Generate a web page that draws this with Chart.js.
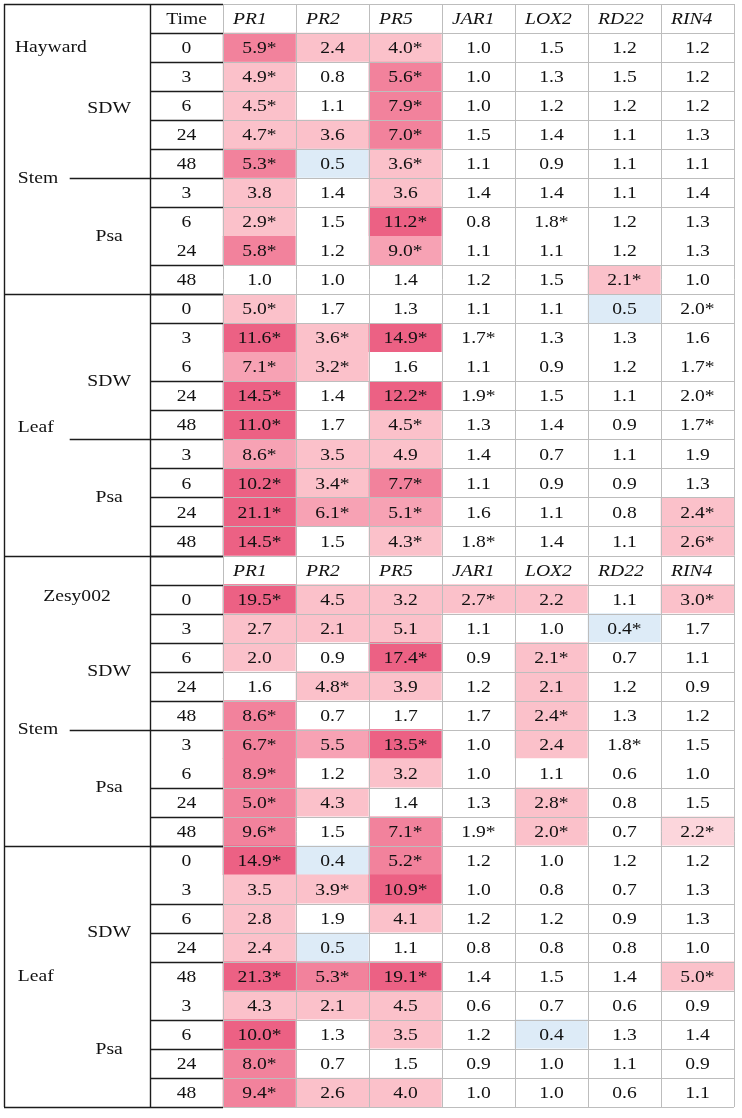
<!DOCTYPE html>
<html>
<head>
<meta charset="utf-8">
<script src="https://cdn.jsdelivr.net/npm/chart.js@4.4.0/dist/chart.umd.min.js"></script>
<style>
html, body { margin: 0; padding: 0; background: #fff; }
#wrap { width: 742px; height: 1118px; position: relative; }
</style>
</head>
<body>
<div id="wrap"><canvas id="heatTable"></canvas></div>
<script>
const genes = ["PR1", "PR2", "PR5", "JAR1", "LOX2", "RD22", "RIN4"];
const times = ["0", "3", "6", "24", "48", "3", "6", "24", "48"];

// fold change values, * = significant
const haywardStem = [
    ["5.9*", "2.4", "4.0*", "1.0", "1.5", "1.2", "1.2"],
    ["4.9*", "0.8", "5.6*", "1.0", "1.3", "1.5", "1.2"],
    ["4.5*", "1.1", "7.9*", "1.0", "1.2", "1.2", "1.2"],
    ["4.7*", "3.6", "7.0*", "1.5", "1.4", "1.1", "1.3"],
    ["5.3*", "0.5", "3.6*", "1.1", "0.9", "1.1", "1.1"],
    ["3.8", "1.4", "3.6", "1.4", "1.4", "1.1", "1.4"],
    ["2.9*", "1.5", "11.2*", "0.8", "1.8*", "1.2", "1.3"],
    ["5.8*", "1.2", "9.0*", "1.1", "1.1", "1.2", "1.3"],
    ["1.0", "1.0", "1.4", "1.2", "1.5", "2.1*", "1.0"],
];
const haywardLeaf = [
    ["5.0*", "1.7", "1.3", "1.1", "1.1", "0.5", "2.0*"],
    ["11.6*", "3.6*", "14.9*", "1.7*", "1.3", "1.3", "1.6"],
    ["7.1*", "3.2*", "1.6", "1.1", "0.9", "1.2", "1.7*"],
    ["14.5*", "1.4", "12.2*", "1.9*", "1.5", "1.1", "2.0*"],
    ["11.0*", "1.7", "4.5*", "1.3", "1.4", "0.9", "1.7*"],
    ["8.6*", "3.5", "4.9", "1.4", "0.7", "1.1", "1.9"],
    ["10.2*", "3.4*", "7.7*", "1.1", "0.9", "0.9", "1.3"],
    ["21.1*", "6.1*", "5.1*", "1.6", "1.1", "0.8", "2.4*"],
    ["14.5*", "1.5", "4.3*", "1.8*", "1.4", "1.1", "2.6*"],
];
const zesyStem = [
    ["19.5*", "4.5", "3.2", "2.7*", "2.2", "1.1", "3.0*"],
    ["2.7", "2.1", "5.1", "1.1", "1.0", "0.4*", "1.7"],
    ["2.0", "0.9", "17.4*", "0.9", "2.1*", "0.7", "1.1"],
    ["1.6", "4.8*", "3.9", "1.2", "2.1", "1.2", "0.9"],
    ["8.6*", "0.7", "1.7", "1.7", "2.4*", "1.3", "1.2"],
    ["6.7*", "5.5", "13.5*", "1.0", "2.4", "1.8*", "1.5"],
    ["8.9*", "1.2", "3.2", "1.0", "1.1", "0.6", "1.0"],
    ["5.0*", "4.3", "1.4", "1.3", "2.8*", "0.8", "1.5"],
    ["9.6*", "1.5", "7.1*", "1.9*", "2.0*", "0.7", "2.2*"],
];
const zesyLeaf = [
    ["14.9*", "0.4", "5.2*", "1.2", "1.0", "1.2", "1.2"],
    ["3.5", "3.9*", "10.9*", "1.0", "0.8", "0.7", "1.3"],
    ["2.8", "1.9", "4.1", "1.2", "1.2", "0.9", "1.3"],
    ["2.4", "0.5", "1.1", "0.8", "0.8", "0.8", "1.0"],
    ["21.3*", "5.3*", "19.1*", "1.4", "1.5", "1.4", "5.0*"],
    ["4.3", "2.1", "4.5", "0.6", "0.7", "0.6", "0.9"],
    ["10.0*", "1.3", "3.5", "1.2", "0.4", "1.3", "1.4"],
    ["8.0*", "0.7", "1.5", "0.9", "1.0", "1.1", "0.9"],
    ["9.4*", "2.6", "4.0", "1.0", "1.0", "0.6", "1.1"],
];

// shading class: 0 none, -1 down (blue), 1..5 up (pink, light to dark)
const haywardStemShade = [
    [4, 2, 2, 0, 0, 0, 0],
    [2, 0, 4, 0, 0, 0, 0],
    [2, 0, 4, 0, 0, 0, 0],
    [2, 2, 4, 0, 0, 0, 0],
    [4, -1, 2, 0, 0, 0, 0],
    [2, 0, 2, 0, 0, 0, 0],
    [2, 0, 5, 0, 0, 0, 0],
    [4, 0, 3, 0, 0, 0, 0],
    [0, 0, 0, 0, 0, 2, 0],
];
const haywardLeafShade = [
    [2, 0, 0, 0, 0, -1, 0],
    [5, 2, 5, 0, 0, 0, 0],
    [3, 2, 0, 0, 0, 0, 0],
    [5, 0, 5, 0, 0, 0, 0],
    [5, 0, 2, 0, 0, 0, 0],
    [3, 2, 2, 0, 0, 0, 0],
    [5, 2, 4, 0, 0, 0, 0],
    [5, 3, 3, 0, 0, 0, 2],
    [5, 0, 2, 0, 0, 0, 2],
];
const zesyStemShade = [
    [5, 2, 2, 2, 2, 0, 2],
    [2, 2, 2, 0, 0, -1, 0],
    [2, 0, 5, 0, 2, 0, 0],
    [0, 2, 2, 0, 2, 0, 0],
    [4, 0, 0, 0, 2, 0, 0],
    [4, 3, 5, 0, 2, 0, 0],
    [4, 0, 2, 0, 0, 0, 0],
    [4, 2, 0, 0, 2, 0, 0],
    [4, 0, 4, 0, 2, 0, 1],
];
const zesyLeafShade = [
    [5, -1, 4, 0, 0, 0, 0],
    [2, 2, 5, 0, 0, 0, 0],
    [2, 0, 2, 0, 0, 0, 0],
    [2, -1, 0, 0, 0, 0, 0],
    [5, 4, 5, 0, 0, 0, 2],
    [2, 2, 2, 0, 0, 0, 0],
    [5, 0, 2, 0, -1, 0, 0],
    [4, 0, 0, 0, 0, 0, 0],
    [4, 2, 2, 0, 0, 0, 0],
];

const palette = {
    "-1": "#ddebf7",
    "0": "#ffffff",
    "1": "#fcd6dc",
    "2": "#fbc1ca",
    "3": "#f7a2b4",
    "4": "#f2829c",
    "5": "#ec6184",
};

// table rows: 0 = header, 1-18 Hayward, 19 = header, 20-37 Zesy002
const blocks = [
    { values: haywardStem, shade: haywardStemShade, start: 1 },
    { values: haywardLeaf, shade: haywardLeafShade, start: 10 },
    { values: zesyStem, shade: zesyStemShade, start: 20 },
    { values: zesyLeaf, shade: zesyLeafShade, start: 29 },
];
const totalRows = 38;
const headerRows = [0, 19];
const columns = ["side", "group", "Time"].concat(genes);

const cells = [];
const cellColors = [];
const cellText = [];
blocks.forEach(b => {
    b.values.forEach((row, i) => {
        row.forEach((v, j) => {
            cells.push({ x: genes[j], y: [b.start + i, b.start + i + 1] });
            cellColors.push(palette[b.shade[i][j]]);
            cellText.push(v);
        });
    });
});

const FONT = "\"Liberation Serif\", \"Times New Roman\", serif";
const SIZE = 17.5;
const SX = 1.12;

// rows where the cell border is left out
const noLineRows = [8, 12, 26, 30];
const noTimeLineRows = [8, 12, 26, 30, 34];

const sideLabels = [
    { text: "Hayward", col: 0.15, row: 1.5, align: "left" },
    { text: "SDW", col: 1.44, row: 3.6, align: "center" },
    { text: "Stem", col: 0.19, row: 6.0, align: "left" },
    { text: "Psa", col: 1.44, row: 8.0, align: "center" },
    { text: "SDW", col: 1.44, row: 13.0, align: "center" },
    { text: "Leaf", col: 0.19, row: 14.6, align: "left" },
    { text: "Psa", col: 1.44, row: 17.0, align: "center" },
    { text: "Zesy002", col: 1.0, row: 20.4, align: "center" },
    { text: "SDW", col: 1.44, row: 23.0, align: "center" },
    { text: "Stem", col: 0.19, row: 25.0, align: "left" },
    { text: "Psa", col: 1.44, row: 27.0, align: "center" },
    { text: "SDW", col: 1.44, row: 32.0, align: "center" },
    { text: "Leaf", col: 0.19, row: 33.5, align: "left" },
    { text: "Psa", col: 1.44, row: 36.0, align: "center" },
];

const tablePlugin = {
    id: "tablePlugin",
    afterDatasetsDraw(chart) {
        const ctx = chart.ctx;
        const xs = chart.scales.x;
        const ys = chart.scales.y;
        const cx = u => xs.getPixelForValue(u - 0.5);
        const ry = r => ys.getPixelForValue(r);

        function text(s, x, y, align, italic) {
            ctx.save();
            ctx.translate(x, y);
            ctx.scale(SX, 1);
            ctx.font = (italic ? "italic " : "") + SIZE + "px " + FONT;
            ctx.fillStyle = "#111";
            ctx.textAlign = align;
            ctx.textBaseline = "middle";
            ctx.fillText(s, 0, 0);
            ctx.restore();
        }
        function hline(c0, c1, r, color, w) {
            const y = Math.round(ry(r)) + 0.5;
            ctx.strokeStyle = color;
            ctx.lineWidth = w;
            ctx.beginPath();
            ctx.moveTo(cx(c0), y);
            ctx.lineTo(cx(c1), y);
            ctx.stroke();
        }
        function vline(c, r0, r1, color, w) {
            const x = Math.round(cx(c)) + 0.5;
            ctx.strokeStyle = color;
            ctx.lineWidth = w;
            ctx.beginPath();
            ctx.moveTo(x, ry(r0));
            ctx.lineTo(x, ry(r1));
            ctx.stroke();
        }

        ctx.save();
        // grey grid of the value cells
        for (let c = 3; c <= columns.length; c++) vline(c, 0, totalRows, "#bdbdbd", 1);
        for (let r = 0; r <= totalRows; r++) {
            if (!noLineRows.includes(r)) hline(3, columns.length, r, "#bdbdbd", 1);
        }
        // black frame of label and time columns
        const black = "#1c1c1c";
        vline(0, 0, totalRows, black, 1.4);
        vline(2, 0, totalRows, black, 1.4);
        [0, 10, 19, 29, totalRows].forEach(r => hline(0, 3, r, black, 1.4));
        for (let r = 1; r < totalRows; r++) {
            if (!noTimeLineRows.includes(r)) hline(2, 3, r, black, 1.4);
        }
        [6, 15, 25].forEach(r => hline(0.9, 2, r, black, 1.4));
        ctx.restore();

        // cell values
        const meta = chart.getDatasetMeta(0);
        meta.data.forEach((el, k) => {
            text(cellText[k], el.x, (el.y + el.base) / 2 + 1, "center", false);
        });

        // headers
        headerRows.forEach((r, i) => {
            const y = (ry(r) + ry(r + 1)) / 2 + 1;
            if (i === 0) text("Time", (cx(2) + cx(3)) / 2, y, "center", false);
            genes.forEach((g, j) => text(g, cx(3 + j) + 10, y, "left", true));
        });

        // time points
        blocks.forEach(b => {
            times.forEach((t, i) => {
                const y = (ry(b.start + i) + ry(b.start + i + 1)) / 2 + 1;
                text(t, (cx(2) + cx(3)) / 2, y, "center", false);
            });
        });

        // group labels
        sideLabels.forEach(l => {
            text(l.text, cx(l.col), ry(l.row), l.align, false);
        });
    },
};

const heatChart = new Chart(document.getElementById("heatTable"), {
    type: "bar",
    data: {
        labels: columns,
        datasets: [
            {
                label: "fold change",
                data: cells,
                backgroundColor: cellColors,
                borderWidth: 0,
                barPercentage: 1,
                categoryPercentage: 1,
            },
        ],
    },
    options: {
        responsive: true,
        maintainAspectRatio: false,
        animation: false,
        layout: { padding: { left: 4, right: 8, top: 4, bottom: 11 } },
        plugins: {
            legend: { display: false },
            tooltip: { enabled: false },
        },
        scales: {
            x: { type: "category", display: false, offset: true },
            y: { type: "linear", display: false, min: 0, max: totalRows, reverse: true },
        },
    },
    plugins: [tablePlugin],
});
</script>
</body>
</html>
